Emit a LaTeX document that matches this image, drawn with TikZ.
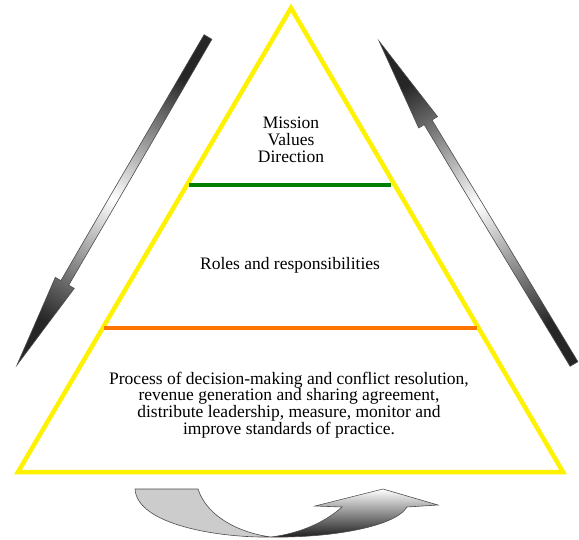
\documentclass[tikz,border=0pt]{standalone}
\usepackage{fontspec}
\setmainfont{Liberation Serif}
\begin{document}
\begin{tikzpicture}[x=1pt,y=-1pt,
	label/.style={align=center,font=\fontsize{17.5}{16.8}\selectfont},
	bigarrow/.style={draw=black!70,line width=0.6pt,top color=black!85,bottom color=black!85,middle color=white}]
		
		\useasboundingbox (0,0) rectangle (579,540);
		
		% Pyramide
		\draw[yellow,line width=4.5pt,line join=miter] (291,8) -- (563,472) -- (18,472) -- cycle;
		
		% Trennlinien
		\draw[green!50!black,line width=4pt] (189,185) -- (391,185);
		\draw[orange!90!red,line width=4.5pt] (104,328) -- (477,328);
		
		% Beschriftung der Ebenen
		\node[label] (mission) at (291,140) {Mission\\Values\\Direction};
		\node[label] (roles) at (290,265) {Roles and responsibilities};
		\node[label] (process) at (289,405) {Process of decision-making and conflict resolution,\\revenue generation and sharing agreement,\\distribute leadership, measure, monitor and\\improve standards of practice.};
		
		% Pfeil links (nach unten)
		\shade[bigarrow,shading angle=-30] (211.9,39.3) -- (68.7,285.2) -- (74.3,288.4) -- (17,365) -- (55.3,277.4) -- (60.9,280.6) -- (204.1,34.7) -- cycle;
		
		% Pfeil rechts (nach oben)
		\shade[bigarrow,shading angle=31] (577.9,361.7) -- (432.0,120.0) -- (437.5,116.6) -- (379,41) -- (418.7,128.0) -- (424.2,124.6) -- (570.1,366.3) -- cycle;
		
		% Kreislauf-Pfeil unten
		\draw[black!70,line width=0.6pt,fill=black!20] (135,489) -- (198,489) .. controls (207,517) and (240,533) .. (271,537) .. controls (220,538) and (137,525) .. cycle;
		\shade[draw=black!70,line width=0.6pt,top color=white,bottom color=black!90] (271,537) .. controls (330,538) and (395,527) .. (407,507) -- (438,505) -- (383,489) -- (315,506) -- (342,507) .. controls (322,525) and (295,534) .. cycle;
		
	\end{tikzpicture}
\end{document}
